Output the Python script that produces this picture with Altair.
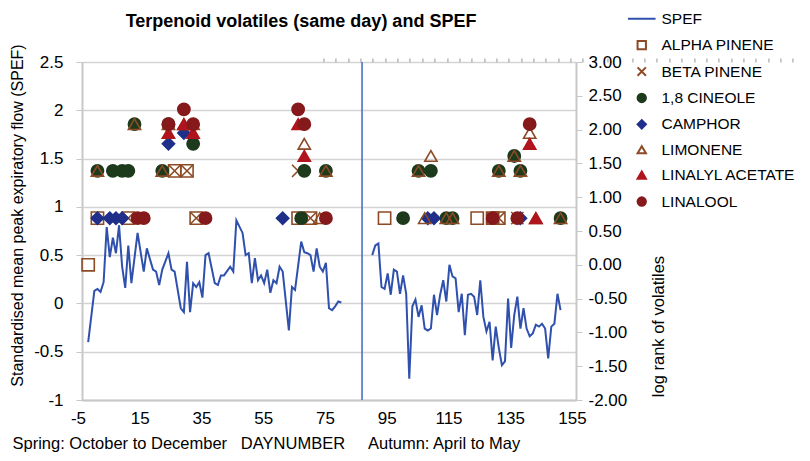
import altair as alt
import pandas as pd

# ---------------- SPEF (standardised mean peak expiratory flow) ----------------
spring_days = [-3, -1, 0, 1, 2, 3, 4, 5, 6, 7, 8, 9, 10, 11, 13, 15, 16, 18, 19, 20,
               21, 23, 24, 25, 27, 28, 29, 30, 31, 32, 33, 34, 35, 36, 38, 39, 40, 41, 43, 44,
               45, 47, 48, 49, 50, 51, 52, 53, 54, 55, 56, 57, 58, 59, 60, 62, 63, 64, 66, 67,
               68, 69, 70, 71, 72, 73, 74, 75, 76, 77, 78, 79]
spring_spef = [-0.40, 0.13, 0.15, 0.12, 0.22, 0.79, 0.48, 0.68, 0.52, 0.81,
               0.38, 0.16, 0.60, 0.21, 0.73, 0.33, 0.57, 0.35, 0.33, 0.19,
               0.35, 0.52, 0.35, 0.33, -0.05, -0.09, 0.43, -0.09, 0.21, 0.17,
               0.22, 0.06, 0.50, 0.52, 0.21, 0.19, 0.29, 0.29, 0.38, 0.33,
               0.86, 0.73, 0.50, 0.52, 0.21, 0.47, 0.24, 0.29, 0.21, 0.35,
               0.11, 0.24, 0.21, 0.38, 0.33, -0.28, 0.17, 0.14, 0.64, 0.53,
               0.52, 0.50, 0.33, 0.57, 0.38, 0.33, 0.42, -0.05, -0.07, -0.03,
               0.02, 0.01]

autumn_days = [89, 90, 91, 92, 93, 94, 95, 96, 97, 98, 99, 100, 101, 102, 103, 104, 105, 106,
               107, 108, 109, 110, 111, 112, 113, 114, 115, 116, 117, 118, 119, 120, 121, 122,
               123, 124, 125, 126, 127, 128, 129, 130, 131, 132, 133, 134, 135, 136, 137, 138,
               139, 140, 141, 142, 143, 144, 145, 146, 147, 148, 149, 150]
autumn_spef = [0.50, 0.60, 0.62, 0.17, 0.15, 0.31, 0.09, 0.35, 0.33, 0.10,
               0.29, 0.10, -0.78, -0.03, 0.04, -0.14, -0.02, -0.26, -0.28, -0.26,
               0.09, -0.12, 0.09, 0.24, 0.02, 0.40, 0.28, 0.26, -0.09, 0.10,
               -0.33, 0.09, 0.10, 0.07, -0.12, 0.24, -0.14, -0.29, -0.19, -0.59,
               -0.24, -0.46, -0.64, -0.60, 0.05, -0.46, -0.12, 0.07, -0.26, -0.05,
               -0.26, -0.34, -0.31, -0.22, -0.24, -0.21, -0.26, -0.57, -0.24, -0.21,
               0.10, -0.07]

season_break_day = [85.7]

# ---------------- Terpenoid volatiles (log rank, right axis) ----------------
alpha_days = [-3, 0, 10, 25, 29, 32, 65, 69, 93, 123, 128, 130]
alpha_rank = [0.00, 0.69, 0.69, 1.39, 1.39, 0.69, 0.69, 0.69, 0.69, 0.69, 0.69, 0.69]

beta_days = [10, 25, 29, 32, 65, 69, 128, 130, 136]
beta_rank = [0.69, 1.39, 1.39, 0.69, 1.39, 0.69, 0.69, 0.69, 0.69]

cineole_days = [0, 5, 8, 10, 12, 21, 23, 31, 66, 67, 74, 99, 104, 108, 113, 115, 130, 135, 137, 150]
cineole_rank = [1.39, 1.39, 1.39, 1.39, 2.08, 1.39, 2.08, 1.79, 0.69, 1.39, 1.39, 0.69, 1.39, 1.39,
                0.69, 0.69, 1.39, 1.61, 1.39, 0.69]

camphor_days = [0, 4, 6, 8, 23, 28, 60, 107, 109, 137]
camphor_rank = [0.69, 0.69, 0.69, 0.69, 1.79, 1.95, 0.69, 0.69, 0.69, 0.69]

limonene_days = [0, 12, 21, 23, 28, 31, 67, 72, 74, 104, 106, 108, 113, 115, 130, 135, 137, 140, 142, 150]
limonene_rank = [1.39, 2.08, 1.39, 2.08, 2.08, 2.08, 1.79, 0.69, 1.39, 1.39, 0.69, 1.61, 0.69, 0.69,
                 1.39, 1.61, 1.39, 1.95, 0.69, 0.69]

linalyl_days = [23, 28, 31, 65, 67, 140, 142]
linalyl_rank = [1.95, 2.08, 1.95, 2.08, 1.61, 1.79, 0.69]

linalool_days = [13, 15, 23, 28, 31, 35, 65, 67, 74, 128, 136, 140]
linalool_rank = [0.69, 0.69, 2.08, 2.30, 2.08, 0.69, 2.30, 2.08, 0.69, 0.69, 0.69, 2.08]

series_names = ["SPEF", "ALPHA PINENE", "BETA PINENE", "1,8 CINEOLE", "CAMPHOR",
                "LIMONENE", "LINALYL ACETATE", "LINALOOL"]
series_stroke = ["#2f50ad", "#8c4a25", "#8c4a25", "#1d3a1d", "#1f2f8a",
                 "#8c4a25", "#b0141c", "#85191b"]
series_fill = ["transparent", "transparent", "transparent", "#1d3a1d", "#1f2f8a",
               "transparent", "#b0141c", "#85191b"]
series_shape = ["M-3.3,0L3.3,0", "square", "M-1,-1L1,1M-1,1L1,-1", "circle", "diamond",
                "triangle-up", "triangle-up", "circle"]

x_label_values = [-5, 15, 35, 55, 75, 95, 115, 135, 155]
x_minor_ticks = [-5, -1, 3, 7, 11, 15, 19, 23, 27, 31, 35, 39, 43, 47, 51, 55, 59, 63, 67, 71,
                 75, 79, 83, 87, 91, 95, 99, 103, 107, 111, 115, 119, 123, 127, 131, 135, 139,
                 143, 147, 151, 155]
left_ticks = [-1, -0.5, 0, 0.5, 1, 1.5, 2, 2.5]
right_ticks = [-2, -1.5, -1, -0.5, 0, 0.5, 1, 1.5, 2, 2.5, 3]

chart_title = ["Terpenoid volatiles (same day) and SPEF"]

# ---------------- tables ----------------
line_df = pd.concat([
    pd.DataFrame({"day": spring_days, "spef": spring_spef, "season": "spring"}),
    pd.DataFrame({"day": autumn_days, "spef": autumn_spef, "season": "autumn"}),
], ignore_index=True)
line_df["series"] = "SPEF"

vol_parts = []
for name, d, r in [("ALPHA PINENE", alpha_days, alpha_rank),
                   ("BETA PINENE", beta_days, beta_rank),
                   ("1,8 CINEOLE", cineole_days, cineole_rank),
                   ("CAMPHOR", camphor_days, camphor_rank),
                   ("LIMONENE", limonene_days, limonene_rank),
                   ("LINALYL ACETATE", linalyl_days, linalyl_rank),
                   ("LINALOOL", linalool_days, linalool_rank)]:
    vol_parts.append(pd.DataFrame({"day": d, "rank": r, "series": name}))
vol_df = pd.concat(vol_parts, ignore_index=True)
vol_df["order"] = vol_df["series"].map({n: i for i, n in enumerate(series_names)})

break_df = pd.DataFrame({"day": season_break_day})
title_df = pd.DataFrame({"t": chart_title})

FONT = "Liberation Sans"
GRAY = "#c8c8c8"
stroke_scale = alt.Scale(domain=series_names, range=series_stroke)
fill_scale = alt.Scale(domain=series_names, range=series_fill)
shape_scale = alt.Scale(domain=series_names, range=series_shape)
x_scale = alt.Scale(domain=[-5, 155], nice=False, zero=False)

legend = alt.Legend(title=None, orient="none", legendX=552, legendY=-51,
                    labelFontSize=15.5, labelFont=FONT, labelColor="#000000",
                    symbolSize=70, symbolStrokeWidth=2, rowPadding=8.4,
                    labelOffset=12, labelLimit=300)

x_enc = alt.X("day:Q", scale=x_scale,
              axis=alt.Axis(values=x_label_values,
                            labelExpr="datum.value < 0 ? '-' + format(-datum.value, 'd') : format(datum.value, 'd')",
                            grid=False, ticks=False, domainColor=GRAY, domainWidth=2,
                            labelFlush=False, labelOffset=-4,
                            labelFontSize=17, labelFont=FONT, labelColor="#000000", labelPadding=10,
                            title="Spring: October to December\u00a0\u00a0\u00a0DAYNUMBER\u00a0\u00a0\u00a0\u00a0\u00a0Autumn: April to May",
                            titleFont=FONT, titleFontSize=16.5, titleFontWeight="normal",
                            titleAlign="left", titleAnchor="start", titleX=-70, titleY=35,
                            titleBaseline="top"))

line = alt.Chart(line_df).mark_line(strokeWidth=2).encode(
    x=x_enc,
    y=alt.Y("spef:Q",
            scale=alt.Scale(domain=[-1, 2.5], nice=False, zero=False),
            axis=alt.Axis(orient="left", values=left_ticks,
                          labelExpr="datum.value < 0 ? '-' + format(-datum.value, '.1~f') : format(datum.value, '.1~f')",
                          grid=True, gridColor="#d4d4d4", gridWidth=1.5,
                          domainColor=GRAY, domainWidth=2, tickColor=GRAY, tickSize=6,
                          labelFontSize=17, labelFont=FONT, labelColor="#000000", labelPadding=13,
                          title="Standardised mean peak expiratory flow (SPEF)",
                          titleFont=FONT, titleFontSize=16, titleFontWeight="normal",
                          titleX=-65, titleY=153, titleAngle=270, titleBaseline="middle")),
    stroke=alt.Stroke("series:N", scale=stroke_scale, legend=legend),
    detail="season:N",
)

# separator between the two seasons; also carries the minor ticks drawn on the zero line
rule = alt.Chart(break_df).mark_rule(color="#4a72c2", strokeWidth=1.6).encode(
    x=alt.X("day:Q", scale=x_scale,
            axis=alt.Axis(orient="top", position=241.4, values=x_minor_ticks, labels=False,
                          domain=False, grid=False, ticks=True, tickSize=4, tickWidth=1.5,
                          tickColor="#b8b8b8", title=None)))

points = alt.Chart(vol_df).mark_point(filled=True, size=150, strokeWidth=1.6, opacity=1).encode(
    x=alt.X("day:Q", scale=x_scale, axis=None),
    y=alt.Y("rank:Q",
            scale=alt.Scale(domain=[-2, 3], nice=False, zero=False),
            axis=alt.Axis(orient="right", values=right_ticks,
                          labelExpr="datum.value < 0 ? '-' + format(-datum.value, '.2f') : format(datum.value, '.2f')",
                          grid=False, domainColor=GRAY, domainWidth=2, tickColor=GRAY, tickSize=6,
                          labelFontSize=17, labelFont=FONT, labelColor="#000000", labelPadding=6,
                          title="log rank of volatiles",
                          titleFont=FONT, titleFontSize=16.5, titleFontWeight="normal",
                          titleX=82, titleY=264, titleAngle=270, titleBaseline="middle")),
    stroke=alt.Stroke("series:N", scale=stroke_scale, legend=legend),
    fill=alt.Fill("series:N", scale=fill_scale, legend=legend),
    shape=alt.Shape("series:N", scale=shape_scale, legend=legend),
    order=alt.Order("order:Q"),
)

title = alt.Chart(title_df).mark_text(font=FONT, fontSize=18, fontWeight="bold", color="#000000",
                                      align="center", baseline="middle").encode(
    text="t:N", x=alt.value(219), y=alt.value(-40))

chart = alt.layer(line, rule, points, title).resolve_scale(y="independent").resolve_axis(
    x="independent").properties(
    width=494, height=338,
    autosize=alt.AutoSizeParams(type="none"),
    padding={"left": 74, "top": 54, "right": 226, "bottom": 53},
).configure_view(stroke=None).configure(background="#ffffff")

chart.save("out.html", embed_options={"renderer": "svg", "actions": False})
